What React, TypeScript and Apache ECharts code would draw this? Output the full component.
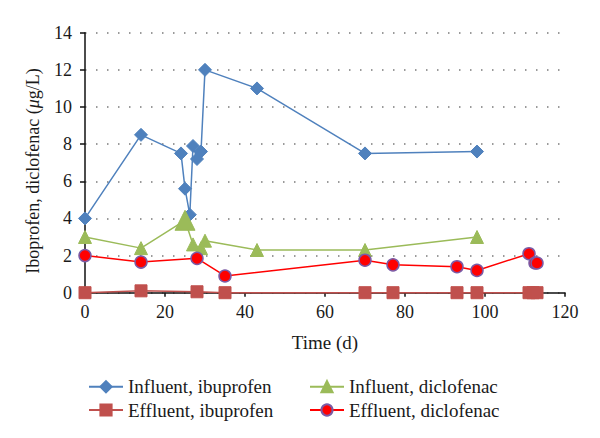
import React, { useEffect, useRef } from "react";
import * as echarts from "echarts";

const xTicks = [0, 20, 40, 60, 80, 100, 120];
const yTicks = [0, 2, 4, 6, 8, 10, 12, 14];

const infIbuDays = [0, 14, 24, 25, 26.2, 27, 28, 29, 30, 43, 70, 98];
const infIbuVals = [4.0, 8.5, 7.5, 5.6, 4.2, 7.9, 7.2, 7.6, 12.0, 11.0, 7.5, 7.6];

const effIbuDays = [0, 14, 28, 35, 70, 77, 93, 98, 111, 112, 113];
const effIbuVals = [0, 0.1, 0.05, 0, 0, 0, 0, 0, 0, 0, 0];

const infDicDays = [0, 14, 25, 27, 29, 30, 43, 70, 98];
const infDicVals = [3.0, 2.4, 3.9, 2.6, 2.4, 2.8, 2.3, 2.3, 3.0];

const effDicDays = [0, 14, 28, 35, 70, 77, 93, 98, 111, 112.5, 113];
const effDicVals = [2.0, 1.65, 1.85, 0.9, 1.75, 1.5, 1.4, 1.2, 2.1, 1.6, 1.6];

const seriesNames = [
  "Influent, ibuprofen",
  "Effluent, ibuprofen",
  "Influent, diclofenac",
  "Effluent, diclofenac",
];

const pairs = (xs: number[], ys: number[]) => xs.map((x, i) => [x, ys[i]]);

const FONT = "'Liberation Serif', 'DejaVu Serif', serif";
const TXT = "#1a1a1a";

export default function App() {
  const ref = useRef<HTMLDivElement>(null);
  useEffect(() => {
    document.body.style.margin = "0";
    if (!ref.current) return;
    const chart = echarts.init(ref.current, undefined, { renderer: "svg" });
    const legendText = {
      fontFamily: FONT,
      fontSize: 19,
      lineHeight: 20,
      color: TXT,
    };
    const legendBase = {
      orient: "vertical",
      top: 371.7,
      itemWidth: 34,
      itemHeight: 14,
      itemGap: 3.3,
      textStyle: legendText,
    };
    chart.setOption({
      animation: false,
      backgroundColor: "#ffffff",
      grid: { left: 85, right: 35, top: 32.7, bottom: 145.3, containLabel: false },
      graphic: [
        {
          type: "text",
          x: 33,
          y: 171,
          rotation: Math.PI / 2,
          style: {
            text: "Iboprofen, diclofenac ({i|μ}g/L)",
            fontFamily: FONT,
            fontSize: 18,
            fill: TXT,
            align: "center",
            verticalAlign: "middle",
            rich: { i: { fontFamily: FONT, fontSize: 18, fontStyle: "italic", fill: TXT } },
          },
        },
      ],
      xAxis: {
        type: "value",
        min: xTicks[0],
        max: xTicks[xTicks.length - 1],
        interval: 20,
        name: "Time (d)",
        nameLocation: "middle",
        nameGap: 40,
        nameTextStyle: { fontFamily: FONT, fontSize: 19, color: TXT },
        axisLine: { lineStyle: { color: "#111", width: 1.5 } },
        axisTick: { show: true, length: 4, lineStyle: { color: "#111", width: 1.5 } },
        axisLabel: { fontFamily: FONT, fontSize: 18, color: TXT, margin: 10 },
        splitLine: { show: false },
      },
      yAxis: {
        type: "value",
        min: yTicks[0],
        max: yTicks[yTicks.length - 1],
        interval: 2,
        axisLine: { show: true, lineStyle: { color: "#111", width: 1.5 } },
        axisTick: { show: true, length: 5, lineStyle: { color: "#111", width: 1.5 } },
        axisLabel: { fontFamily: FONT, fontSize: 18, color: TXT, margin: 13 },
        splitLine: { show: true, lineStyle: { color: "#7a7a7a", width: 1.5, type: [1.5, 9.5] } },
      },
      legend: [
        { ...legendBase, data: [seriesNames[0], seriesNames[1]], left: 83 },
        { ...legendBase, data: [seriesNames[2], seriesNames[3]], left: 304 },
      ],
      series: [
        {
          name: seriesNames[0],
          type: "line",
          data: pairs(infIbuDays, infIbuVals),
          symbol: "diamond",
          symbolSize: 13,
          clip: false,
          lineStyle: { color: "#4F81BD", width: 1.5 },
          itemStyle: { color: "#4F81BD", borderColor: "#4F81BD", borderWidth: 1 },
          z: 3,
        },
        {
          name: seriesNames[1],
          type: "line",
          data: pairs(effIbuDays, effIbuVals),
          symbol: "rect",
          symbolSize: 12,
          clip: false,
          lineStyle: { color: "#C0504D", width: 1.5 },
          itemStyle: { color: "#C0504D", borderColor: "#C0504D", borderWidth: 1 },
          z: 4,
        },
        {
          name: seriesNames[2],
          type: "line",
          data: pairs(infDicDays, infDicVals),
          symbol: "triangle",
          symbolSize: (_v: any, p: any) => (p.dataIndex === 2 ? 20 : 13),
          clip: false,
          lineStyle: { color: "#9BBB59", width: 1.5 },
          itemStyle: { color: "#9BBB59", borderColor: "#9BBB59", borderWidth: 1 },
          z: 5,
        },
        {
          name: seriesNames[3],
          type: "line",
          data: pairs(effDicDays, effDicVals),
          symbol: "circle",
          symbolSize: 12,
          clip: false,
          lineStyle: { color: "#FF0000", width: 1.5 },
          itemStyle: { color: "#FF0000", borderColor: "#7B5BA6", borderWidth: 1.5 },
          z: 6,
        },
      ],
    });
    return () => chart.dispose();
  }, []);
  return <div ref={ref} style={{ width: 600, height: 438 }} />;
}
